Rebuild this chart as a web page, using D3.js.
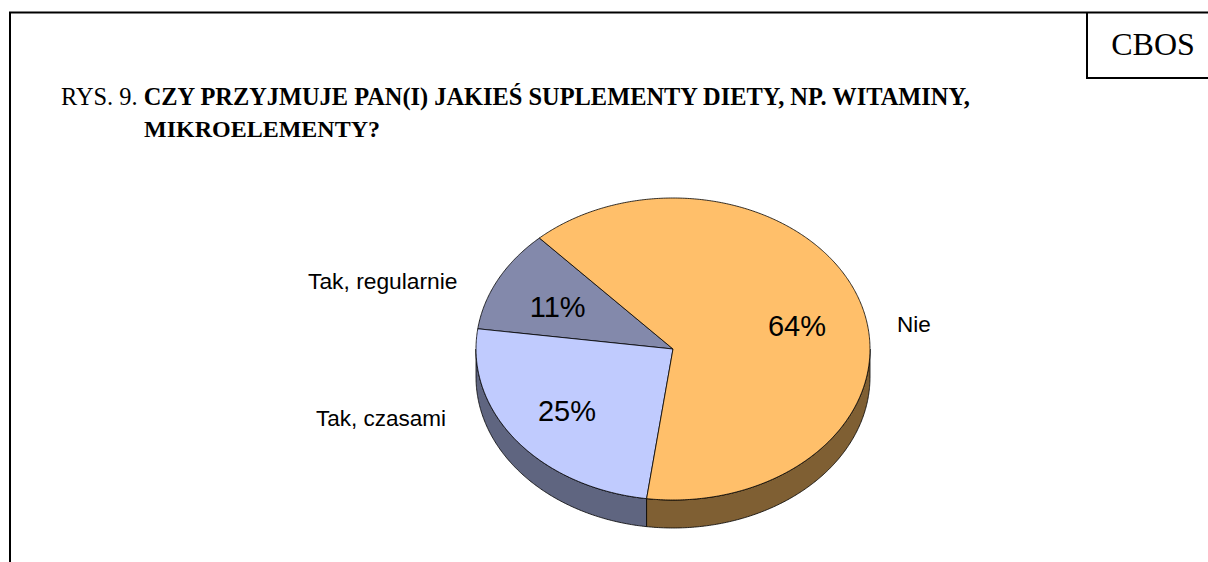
<!DOCTYPE html>
<html>
<head>
<meta charset="utf-8">
<script src="https://cdn.jsdelivr.net/npm/d3@7"></script>
<style>
  html, body { margin: 0; padding: 0; background: #ffffff; }
  svg { display: block; }
</style>
</head>
<body>
<svg id="chart" width="1208" height="562"></svg>
<script>
// Survey answers (percent of respondents)
const categories = ["Tak, regularnie", "Tak, czasami", "Nie"];
const values = [11, 25, 64];
const valueLabels = ["11%", "25%", "64%"];
const topColors = ["#8389AB", "#C0CBFE", "#FFBF6A"];
const sideColors = ["#5A5F78", "#5F6580", "#7F5F33"];

const svg = d3.select("#chart");

// Frame around the figure
svg.append("path")
  .attr("d", "M10,562 L10,12.5 L1208,12.5")
  .attr("fill", "none").attr("stroke", "#000").attr("stroke-width", 2);
// Box with the institute's name
svg.append("path")
  .attr("d", "M1087,12.5 L1087,78 L1208,78")
  .attr("fill", "none").attr("stroke", "#000").attr("stroke-width", 2);
svg.append("text")
  .attr("x", 1153).attr("y", 55)
  .attr("text-anchor", "middle")
  .attr("font-family", "'Times New Roman', 'Liberation Serif', serif")
  .attr("font-size", 32)
  .text("CBOS");

// Title
const serif = "'Times New Roman', 'Liberation Serif', serif";
const title = svg.append("text")
  .attr("font-family", serif)
  .attr("font-size", 24.4)
  .attr("x", 61).attr("y", 105);
title.append("tspan").text("RYS. 9. ");
title.append("tspan").attr("font-weight", "bold")
  .text("CZY PRZYJMUJE PAN(I) JAKIEŚ SUPLEMENTY DIETY, NP. WITAMINY,");
svg.append("text")
  .attr("font-family", serif)
  .attr("font-size", 24).attr("font-weight", "bold")
  .attr("x", 144).attr("y", 137)
  .text("MIKROELEMENTY?");

// 3D pie geometry
const cx = 673, cy = 349, rx = 197, ry = 151, depth = 28;
const deg = Math.PI / 180;
const start = 317.3 * deg;

// Slices laid out counter-clockwise from the boundary at upper left
const pie = d3.pie().sort(null).value(d => d)
  .startAngle(start).endAngle(start - 2 * Math.PI);
const arcs = pie(values);

// Angle measured clockwise from 12 o'clock, projected onto the tilted disc
const px = a => cx + rx * Math.sin(a);
const py = a => cy - ry * Math.cos(a);

function arcPoints(a0, a1, dy) {
  const n = Math.max(2, Math.ceil(Math.abs(a1 - a0) / (0.5 * deg)));
  return d3.range(n + 1).map(i => {
    const a = a0 + (a1 - a0) * i / n;
    return [px(a), py(a) + dy];
  });
}
const line = d3.line();

// Visible side walls: the front half of the disc (90°..270°)
const gSide = svg.append("g");
arcs.forEach((d, i) => {
  const lo = Math.min(d.startAngle, d.endAngle);
  const hi = Math.max(d.startAngle, d.endAngle);
  [0, 2 * Math.PI, -2 * Math.PI].forEach(shift => {
    const a0 = Math.max(lo + shift, 90 * deg), a1 = Math.min(hi + shift, 270 * deg);
    if (a1 <= a0) return;
    const pts = arcPoints(a0, a1, 0).concat(arcPoints(a1, a0, depth));
    gSide.append("path")
      .attr("d", line(pts) + "Z")
      .attr("fill", sideColors[i])
      .attr("stroke", "#000").attr("stroke-width", 0.8)
      .attr("stroke-linejoin", "round");
  });
});

// Top faces
const gTop = svg.append("g");
arcs.forEach((d, i) => {
  const pts = [[cx, cy]].concat(arcPoints(d.startAngle, d.endAngle, 0));
  gTop.append("path")
    .attr("d", line(pts) + "Z")
    .attr("fill", topColors[i])
    .attr("stroke", "#000").attr("stroke-width", 0.8)
    .attr("stroke-linejoin", "round");
});

// Percentage labels inside the slices: along each slice's mid angle
const sans = "Arial, 'Liberation Sans', sans-serif";
const labelRadius = [0.66, 0.677, 0.66];
const labelShiftY = [14, 10, 17];
arcs.forEach((d, i) => {
  const mid = (d.startAngle + d.endAngle) / 2;
  const k = labelRadius[i];
  svg.append("text")
    .attr("x", cx + rx * k * Math.sin(mid))
    .attr("y", cy - ry * k * Math.cos(mid) + labelShiftY[i])
    .attr("text-anchor", "middle")
    .attr("font-family", sans)
    .attr("font-size", 29)
    .text(valueLabels[i]);
});

// Category labels outside the disc
const catAnchor = [[308, 289], [316, 426], [897, 332]];
categories.forEach((c, i) => {
  svg.append("text")
    .attr("x", catAnchor[i][0]).attr("y", catAnchor[i][1])
    .attr("font-family", sans)
    .attr("font-size", i === 0 ? 22.8 : 22.5)
    .text(c);
});
</script>
</body>
</html>
